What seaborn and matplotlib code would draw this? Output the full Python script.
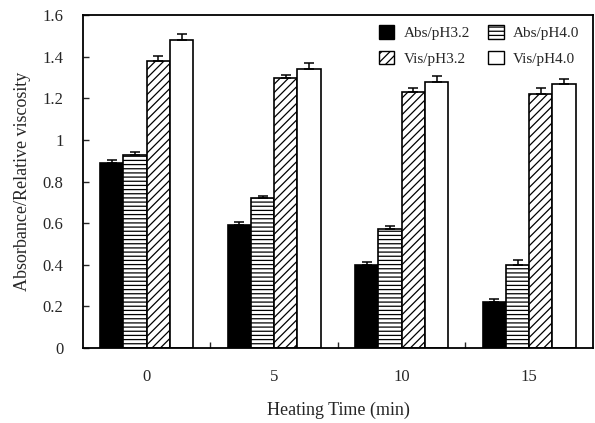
import numpy as np
import pandas as pd
import matplotlib
matplotlib.use("Agg")
import matplotlib.pyplot as plt
import seaborn as sns
from matplotlib.patches import Patch

times = ["0", "5", "10", "15"]
series = ["Abs/pH3.2", "Abs/pH4.0", "Vis/pH3.2", "Vis/pH4.0"]
abs_ph32 = [0.89, 0.59, 0.40, 0.22]
abs_ph40 = [0.93, 0.72, 0.57, 0.40]
vis_ph32 = [1.38, 1.30, 1.23, 1.22]
vis_ph40 = [1.48, 1.34, 1.28, 1.27]
err_abs_ph32 = [0.012, 0.015, 0.012, 0.016]
err_abs_ph40 = [0.012, 0.012, 0.018, 0.024]
err_vis_ph32 = [0.025, 0.012, 0.018, 0.028]
err_vis_ph40 = [0.028, 0.030, 0.028, 0.022]

values = [abs_ph32, abs_ph40, vis_ph32, vis_ph40]
errors = [err_abs_ph32, err_abs_ph40, err_vis_ph32, err_vis_ph40]

df = pd.DataFrame({
    "time": [t for _ in series for t in times],
    "series": [s for s in series for _ in times],
    "value": [v for vals in values for v in vals],
})

sns.set_theme(style="ticks")
plt.rcParams["font.family"] = ["Liberation Serif", "DejaVu Serif"]
plt.rcParams["hatch.linewidth"] = 0.9

fig = plt.figure(figsize=(5.95, 4.23), dpi=100)
ax = fig.add_axes([0.1395, 0.1773, 0.857, 0.787])

colors = {"Abs/pH3.2": "black", "Abs/pH4.0": "white",
          "Vis/pH3.2": "white", "Vis/pH4.0": "white"}
hatches = ["", "----", "////", ""]

sns.barplot(data=df, x="time", y="value", hue="series", order=times,
            hue_order=series, palette=colors, width=0.73,
            edgecolor="black", linewidth=1.2, errorbar=None,
            legend=False, ax=ax)

for cont, h, errs in zip(ax.containers, hatches, errors):
    xs, hs = [], []
    for bar in cont:
        bar.set_hatch(h)
        xs.append(bar.get_x() + bar.get_width() / 2)
        hs.append(bar.get_height())
    ax.errorbar(xs, hs, yerr=[np.zeros(len(errs)), errs], fmt="none",
                ecolor="black", elinewidth=1.1, capsize=3.5, capthick=1.1)

ax.set_ylim(0, 1.6)
ax.set_xlim(-0.5, 3.5)
ax.set_yticks(np.arange(0, 1.61, 0.2))
ax.set_yticklabels(["0", "0.2", "0.4", "0.6", "0.8", "1", "1.2", "1.4", "1.6"])
ax.tick_params(axis="y", direction="in", length=4, width=1, pad=14, labelsize=12)
ax.tick_params(axis="x", which="major", length=0, pad=15, labelsize=12)
ax.set_xticks([0.5, 1.5, 2.5], minor=True)
ax.tick_params(axis="x", which="minor", direction="in", length=4, width=1)
for sp in ax.spines.values():
    sp.set_visible(True)
    sp.set_linewidth(1.3)
    sp.set_color("black")

ax.set_xlabel("Heating Time (min)", fontsize=13, labelpad=12)
ax.set_ylabel("Absorbance/Relative viscosity", fontsize=13, labelpad=8)

handles = [Patch(facecolor=colors[s], edgecolor="black", hatch=h, label=s)
           for s, h in zip(series, hatches)]
order = [0, 2, 1, 3]
ax.legend([handles[i] for i in order], [series[i] for i in order],
          ncol=2, frameon=False, loc="upper right",
          bbox_to_anchor=(1.0, 1.012), fontsize=11, handlelength=1.0,
          handleheight=1.0, labelspacing=0.7, columnspacing=1.2,
          handletextpad=0.6)

fig.savefig("out.png", dpi=100)
